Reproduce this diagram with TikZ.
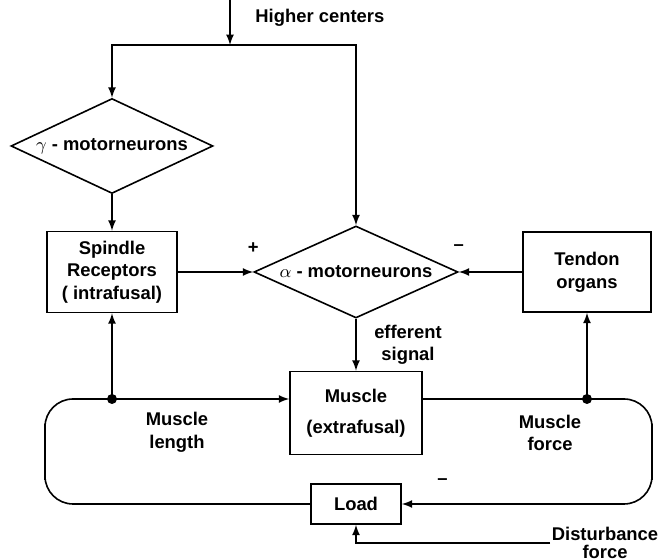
\documentclass[tikz,border=0pt]{standalone}
\usepackage{fontspec}
\setmainfont{Liberation Sans}
\usetikzlibrary{shapes.geometric, positioning, arrows}

\begin{document}
\begin{tikzpicture}
	[on grid, node distance=2cm, >=latex, line width=0.8pt,
	 font=\fontsize{9.2}{11.3}\selectfont\bfseries,
	 blk/.style={draw, rectangle, align=center, inner sep=0pt},
	 dia/.style={draw, diamond, inner sep=0pt, shape aspect=2.2},
	 jdot/.style={circle, fill, inner sep=0pt, minimum size=5pt}]
   \useasboundingbox (-178pt,-144pt) rectangle (152pt,136pt);
   \node[dia, minimum width=102pt, minimum height=46pt] (alp) {$\alpha$ - motorneurons};
   \node[blk, minimum width=65pt, minimum height=40.5pt] (spin) [left=122pt of alp] {Spindle\\Receptors\\( intrafusal)};
   \node[blk, minimum width=64pt, minimum height=40pt] (tend) [right=115.5pt of alp] {Tendon\\organs};
   \node[dia, minimum width=101pt, minimum height=47.5pt] (gam) [above=63pt of spin] {$\gamma$ - motorneurons};
   \node[blk, minimum width=66pt, minimum height=41.5pt] (mus) [below=70.5pt of alp] {Muscle\\[4pt](extrafusal)};
   \node[blk, minimum width=45pt, minimum height=20pt] (load) [below=45.5pt of mus] {Load};
   \node[align=center] (len) [below left=9.5pt and 89.5pt of mus] {Muscle\\length};
   \node[align=center] (frc) [below right=10pt and 97pt of mus] {Muscle\\force};
   \node (neg_l) [above right=6pt and 14pt of load.east] {--};
   \node[anchor=west] (hc_text) at (-54pt,127pt) {Higher centers};
   \node[align=center, anchor=east, inner sep=0.5pt, font=\fontsize{9.2}{8.6}\selectfont\bfseries] (dist) at (152pt,-135.5pt) {Disturbance\\force};
   \coordinate (hc) at (-63pt,136pt);
   \coordinate (bar_l) at (gam |- 0,113.5pt);
   \coordinate (bar_r) at (alp |- 0,113.5pt);
   \coordinate (jl) at (spin |- 0,-63.5pt);
   \coordinate (jr) at (tend |- 0,-63.5pt);
   \node[jdot] (jl_dot) at (jl) {};
   \node[jdot] (jr_dot) at (jr) {};
   % higher centers
   \draw[->] (hc) -- (hc |- bar_l);
   \draw[<->] (gam.north) -- (bar_l) -- (bar_r) -- (alp.north);
       \path[->]
    (gam) edge (spin)
    (spin) edge node[at end, yshift=12pt] {+} (alp)
    (tend) edge node[at end, yshift=12pt] {--} (alp)
    (alp) edge node[pos=0.5, xshift=26pt, align=center] {efferent\\signal} (mus)
    (jl) edge (spin)
    (jr) edge (tend);
   % loop
   \draw[->, rounded corners=14pt] (load.west) -| (-155.5pt,-90pt) |- (jl) -- (jl -| mus.west);
   \draw[->, rounded corners=14pt] (mus.east |- jr) -| (148pt,-90pt) |- (load.east);
   \draw[->] (dist.west) -| (load.south);
\end{tikzpicture}
\end{document}
